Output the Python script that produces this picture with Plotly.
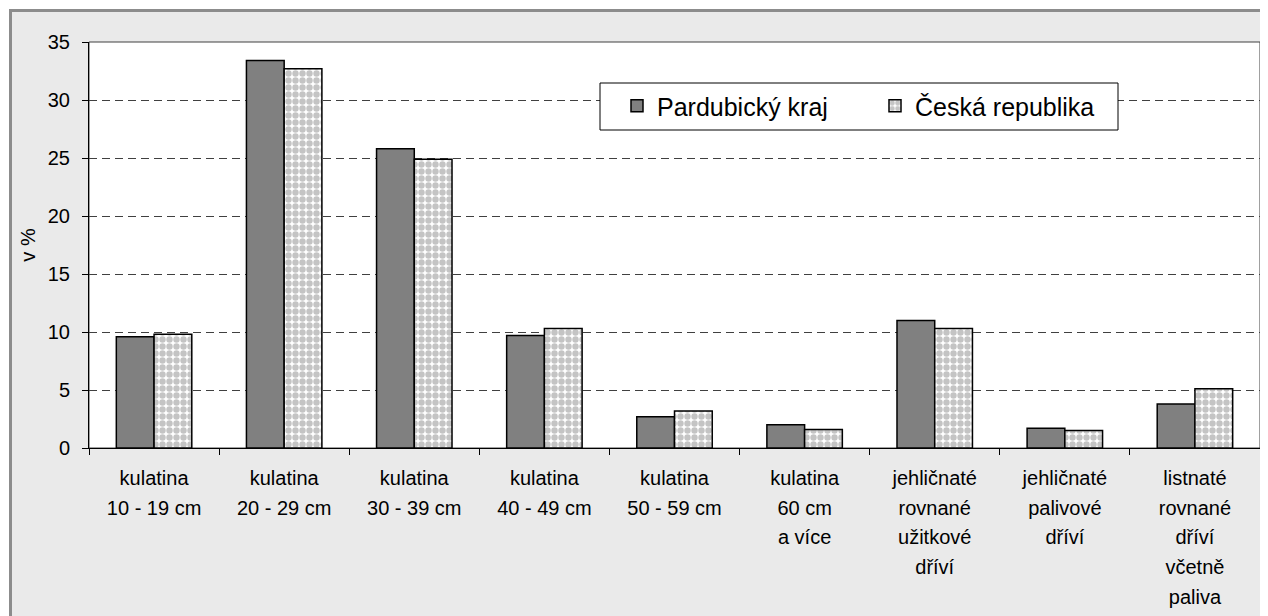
import plotly.graph_objects as go

# categories and values (in %)
categories = [
    "kulatina<br>10 - 19 cm",
    "kulatina<br>20 - 29 cm",
    "kulatina<br>30 - 39 cm",
    "kulatina<br>40 - 49 cm",
    "kulatina<br>50 - 59 cm",
    "kulatina<br>60 cm<br>a více",
    "jehličnaté<br>rovnané<br>užitkové<br>dříví",
    "jehličnaté<br>palivové<br>dříví",
    "listnaté<br>rovnané<br>dříví<br>včetně<br>paliva",
]
pardubicky = [9.6, 33.4, 25.8, 9.7, 2.7, 2.0, 11.0, 1.7, 3.8]
cr = [9.8, 32.7, 24.9, 10.3, 3.2, 1.6, 10.3, 1.5, 5.1]

FONT = "Liberation Sans, Arial, sans-serif"


# wide line spacing for the category labels: big font on the text, small font on the spans
def label(txt):
    return "<br>".join(f"<span style='font-size:20px'>{p}</span>" for p in txt.split("<br>"))


tick_labels = [label(c) for c in categories]

fig = go.Figure()
fig.add_trace(go.Bar(
    x=tick_labels, y=pardubicky, name="Pardubický kraj",
    marker=dict(color="#808080", line=dict(color="black", width=1.5)),
))
fig.add_trace(go.Bar(
    x=tick_labels, y=cr, name="Česká republika",
    marker=dict(
        color="white",
        line=dict(color="black", width=1.5),
        pattern=dict(shape=".", fgcolor="#8a8a8a", bgcolor="white", size=7, solidity=0.65),
    ),
))

# the page body has an 8px margin, so the figure is a bit smaller than the window
W, H = 1260, 608
ml, mr, mt, mb = 81, 8, 34, 168
pw, ph = W - ml - mr, H - mt - mb


def px_x(x):
    return (x - ml) / pw


def px_y(y):
    return (H - mb - y) / ph


# outer grey frame, then white plot area on top of it
fig.add_shape(type="rect", xref="paper", yref="paper", layer="below",
              x0=px_x(2.5), x1=px_x(W + 20), y0=px_y(H + 20), y1=px_y(2.5),
              fillcolor="#eaeaea", line=dict(color="#8c8c8c", width=3))
fig.add_shape(type="rect", xref="paper", yref="paper", layer="below",
              x0=0, x1=1, y0=0, y1=1, fillcolor="white", line=dict(color="#404040", width=1))
# legend box
fig.add_shape(type="rect", xref="paper", yref="paper", layer="above",
              x0=px_x(592), x1=px_x(1110), y0=px_y(122), y1=px_y(75),
              fillcolor="white", line=dict(color="black", width=1))

fig.update_layout(
    width=W, height=H,
    margin=dict(l=ml, r=mr, t=mt, b=mb),
    barmode="group", bargap=0.42, bargroupgap=0,
    paper_bgcolor="white", plot_bgcolor="rgba(0,0,0,0)",
    font=dict(family=FONT, size=20, color="black"),
    legend=dict(
        orientation="h", x=px_x(609), y=px_y(98),
        xanchor="left", yanchor="middle",
        bgcolor="rgba(0,0,0,0)", borderwidth=0,
        font=dict(size=25), entrywidth=213, entrywidthmode="pixels",
    ),
)
fig.update_xaxes(
    showline=True, linecolor="black", linewidth=1,
    ticks="outside", tickson="boundaries", ticklen=6, tickcolor="black",
    tickfont=dict(size=23), ticklabelstandoff=8, showgrid=False,
)
fig.update_yaxes(
    range=[0, 35], dtick=5, showline=True, linecolor="black", linewidth=1,
    ticks="outside", ticklen=6, tickcolor="black", tickfont=dict(size=20),
    ticklabelstandoff=8,
    showgrid=True, gridcolor="#404040", gridwidth=1, griddash="8px,5px",
    zeroline=False,
    title=dict(text="v %", font=dict(size=20), standoff=6),
)

fig.write_html("out.html")
